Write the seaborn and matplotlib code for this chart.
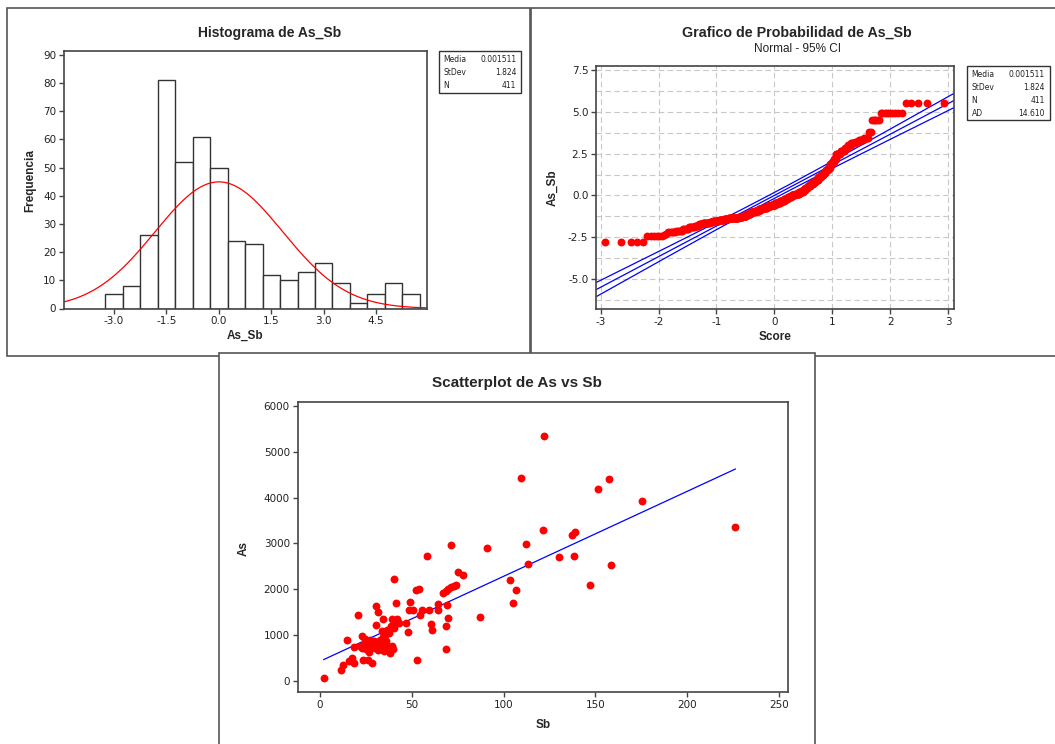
import matplotlib
matplotlib.use("Agg")
import matplotlib.pyplot as plt
import numpy as np
import pandas as pd
import seaborn as sns
from matplotlib.patches import Rectangle
from statistics import NormalDist

as_sb_levels = [-2.8,
                -2.43, -2.35, -2.28,
                -2.2, -2.1, -2.0, -1.9, -1.8,
                -1.72, -1.67, -1.62, -1.57, -1.5, -1.45, -1.4, -1.36, -1.32, -1.28,
                -1.2, -1.1, -1.0, -0.9, -0.8,
                -0.72, -0.65, -0.55, -0.45, -0.33,
                -0.2, -0.1, 0.0, 0.1, 0.2,
                0.3, 0.42, 0.55, 0.68,
                0.8, 0.95, 1.1, 1.2,
                1.35, 1.5, 1.65,
                1.85, 2.0, 2.15,
                2.5, 2.65,
                2.85, 3.0, 3.1, 3.2,
                3.3, 3.4,
                3.8, 4.5, 4.9, 5.5]
as_sb_counts = [5,
                6, 1, 1,
                5, 5, 5, 6, 5,
                5, 5, 5, 5, 10, 10, 9, 11, 11, 10,
                10, 10, 11, 11, 10,
                12, 12, 12, 13, 12,
                10, 10, 10, 10, 10,
                6, 6, 6, 6,
                6, 6, 6, 5,
                4, 4, 4,
                3, 4, 3,
                7, 6,
                4, 4, 4, 4,
                5, 4,
                2, 5, 9, 5]

# summary shown in the legend boxes
media = 0.001511
stdev = 1.824
n_obs = 411
ad_stat = 14.610

# Scatterplot As vs Sb
sb_vals = [122.2, 109.3, 157.2, 151.2, 175.4, 226.3, 121.7, 137.0, 138.8, 71.4,
           91.2, 112.1, 58.5, 130.1, 138.1, 113.1, 158.5, 40.3, 75.2, 77.6,
           103.7, 106.5, 147.2, 105.3, 86.9, 52.7,
           52.3, 53.8, 67.2, 68.6, 69.9, 71.2, 72.7, 74.1, 48.8, 41.5,
           64.5, 69.2, 48.5, 50.8, 55.4, 59.3, 64.5, 54.2, 69.6, 68.4,
           60.4, 61.1, 48.1, 40.8, 43.2, 46.9, 68.4, 39.6,
           1.9, 11.2, 12.7, 14.4, 15.9, 17.6, 18.6, 18.6, 20.6, 22.7,
           23.3, 22.9, 24.4, 25.4, 26.5, 26.1, 27.1, 28.4, 28.6, 29.2,
           29.7, 30.7, 31.4, 30.7, 31.4, 31.8, 32.8, 33.5, 34.5, 33.9,
           35.0, 35.6, 36.0, 36.7, 37.7, 37.9, 38.6, 39.2, 39.2, 40.7,
           41.9, 40.0, 34.5, 38.0, 24.0, 27.5, 30.5, 33.0, 36.5, 25.0,
           22.0, 26.0]
as_vals = [5340, 4439, 4417, 4192, 3921, 3362, 3295, 3178, 3248, 2959,
           2890, 2978, 2715, 2711, 2733, 2558, 2537, 2220, 2380, 2300,
           2194, 1972, 2102, 1698, 1385, 445,
           1982, 2004, 1925, 1965, 2004, 2040, 2063, 2100, 1725, 1705,
           1684, 1654, 1553, 1540, 1553, 1540, 1553, 1428, 1366, 1188,
           1231, 1115, 1070, 1297, 1268, 1250, 695, 695,
           58, 240, 340, 896, 423, 496, 386, 729, 1430, 984,
           445, 714, 911, 824, 620, 459, 882, 386, 787, 860,
           714, 1630, 1494, 1210, 824, 678, 896, 751, 1348, 1079,
           641, 1006, 860, 1115, 1042, 605, 1188, 765, 1348, 1275,
           1348, 1150, 950, 1130, 780, 760, 800, 700, 760, 700,
           760, 850]

# fitted line as drawn in the reference (As = a + b*Sb)
fit_intercept = 424
fit_slope = 18.58

as_sb = np.repeat(as_sb_levels, as_sb_counts)

sns.set_style("ticks")
plt.rcParams['font.family'] = ['DejaVu Sans']
plt.rcParams['axes.unicode_minus'] = False

W, H = 1055, 744
fig = plt.figure(figsize=(W / 100, H / 100), dpi=100)
EDGE = '#444444'
TITLE_FONT = 'Liberation Sans'


def px_axes(l, t, r, b):
    return fig.add_axes([l / W, 1 - b / H, (r - l) / W, (b - t) / H])


def px_text(x, y, s, **kw):
    fig.text(x / W, 1 - y / H, s, **kw)


def px_rect(l, t, r, b, z, lw=1.2, ec='#555555'):
    fig.add_artist(Rectangle((l / W, 1 - b / H), (r - l) / W, (b - t) / H,
                             transform=fig.transFigure, facecolor='white',
                             edgecolor=ec, lw=lw, zorder=z))


def style_axes(ax):
    for sp in ax.spines.values():
        sp.set_visible(True)
        sp.set_color(EDGE)
        sp.set_linewidth(1.2)
    ax.tick_params(which='major', direction='out', length=3.5, width=1,
                   color=EDGE, labelsize=7.5, pad=2, labelcolor='#222222')
    ax.set_xlabel('')
    ax.set_ylabel('')


def stats_box(l, t, r, b, rows, ys):
    px_rect(l, t, r, b, 2, lw=1.0, ec='#333333')
    for (lab, val), y in zip(rows, ys):
        px_text(l + 5, y, lab, fontsize=5.5, va='center', ha='left', color='#222222')
        px_text(r - 5, y, val, fontsize=5.5, va='center', ha='right', color='#222222')


# panel frames
px_rect(7, 8, 530, 356, -3)
px_rect(531, 8, 1062, 356, -3)
px_rect(219, 353, 815, 752, -2)

# ---------------- Histogram ----------------
ax1 = px_axes(64, 51, 426.5, 308.5)
edges = np.arange(-3.25, 5.76, 0.5)
sns.histplot(x=as_sb, bins=edges, color='white', edgecolor='#333333',
             linewidth=1.0, alpha=1, ax=ax1)
x_lo, x_hi = -4.43, 5.94
xs = np.linspace(x_lo, x_hi, 300)
bw = edges[1] - edges[0]
curve = n_obs * bw * np.exp(-0.5 * ((xs - media) / stdev) ** 2) / (stdev * np.sqrt(2 * np.pi))
ax1.plot(xs, curve, color='red', lw=0.9)
ax1.set_xlim(x_lo, x_hi)
ax1.set_ylim(0, 91.4)
hx = np.arange(-3.0, 4.6, 1.5)
ax1.set_xticks(hx)
ax1.set_xticklabels([f"{v:.1f}" for v in hx])
ax1.set_yticks(np.arange(0, 91, 10))
style_axes(ax1)

px_text(270, 33, 'Histograma de As_Sb', family=TITLE_FONT, fontweight='bold',
        fontsize=10, ha='center', va='center')
px_text(245, 336, 'As_Sb', family=TITLE_FONT, fontweight='bold', fontsize=8.5,
        ha='center', va='center')
px_text(30, 180, 'Frequencia', family=TITLE_FONT, fontweight='bold', fontsize=8.5,
        ha='center', va='center', rotation=90)
stats_box(438.5, 51, 521.3, 93.3,
          [('Media', f'{media}'), ('StDev', f'{stdev:.3f}'), ('N', f'{n_obs}')],
          [60, 72.7, 85])

# ---------------- Probability plot ----------------
ax2 = px_axes(596, 66, 954, 309)
ranks = np.arange(1, len(as_sb) + 1)
probs = (ranks - 0.3) / (len(as_sb) + 0.4)
scores = np.array([NormalDist().inv_cdf(p) for p in probs])
z_lo, z_hi = -3.081, 3.104
zz = np.linspace(z_lo, z_hi, 200)
fit = media + stdev * zz
half = 1.96 * stdev * np.sqrt((1 + zz ** 2 / 2) / len(as_sb))
for yy in (fit - half, fit, fit + half):
    ax2.plot(zz, yy, color='blue', lw=0.9, zorder=2)
sns.scatterplot(x=scores, y=np.sort(as_sb), color='red', s=32, linewidth=0,
                ax=ax2, zorder=3)
ax2.set_xlim(z_lo, z_hi)
ax2.set_ylim(-6.77, 7.72)
ax2.set_xticks(np.arange(-3, 4, 1))
yt = np.arange(-5.0, 7.6, 2.5)
ax2.set_yticks(yt)
ax2.set_yticklabels([f"{v:.1f}" for v in yt])
ax2.set_yticks(np.arange(-6.25, 7.6, 1.25), minor=True)
ax2.tick_params(which='minor', length=0)
ax2.grid(True, which='both', axis='y', ls=(0, (5, 3)), color='#c8c8c8', lw=0.8)
ax2.grid(True, which='major', axis='x', ls=(0, (5, 3)), color='#c8c8c8', lw=0.8)
ax2.set_axisbelow(True)
style_axes(ax2)

px_text(797, 33, 'Grafico de Probabilidad de As_Sb', family=TITLE_FONT,
        fontweight='bold', fontsize=10.3, ha='center', va='center')
px_text(797, 49, 'Normal - 95% CI', family=TITLE_FONT, fontsize=8.5,
        ha='center', va='center', color='#222222')
px_text(775, 337, 'Score', family=TITLE_FONT, fontweight='bold', fontsize=8.5,
        ha='center', va='center')
px_text(553, 188, 'As_Sb', family=TITLE_FONT, fontweight='bold', fontsize=8.5,
        ha='center', va='center', rotation=90)
stats_box(966.7, 66.3, 1050, 120,
          [('Media', f'{media}'), ('StDev', f'{stdev:.3f}'), ('N', f'{n_obs}'),
           ('AD', f'{ad_stat:.3f}')],
          [74.7, 88, 100.7, 114])

# ---------------- Scatterplot ----------------
ax3 = px_axes(297.5, 402, 788, 692)
df = pd.DataFrame({'Sb': sb_vals, 'As': as_vals})
sns.regplot(data=df, x='Sb', y='As', fit_reg=False, ax=ax3,
            scatter_kws=dict(color='red', s=32, linewidths=0, alpha=1, zorder=3))
line_x = np.array([df['Sb'].min(), df['Sb'].max()])
sns.lineplot(x=line_x, y=fit_intercept + fit_slope * line_x, color='blue',
             lw=0.9, ax=ax3, zorder=2)
ax3.set_xlim(-12.3, 254.9)
ax3.set_ylim(-248, 6093)
ax3.set_xticks(np.arange(0, 251, 50))
ax3.set_yticks(np.arange(0, 6001, 1000))
style_axes(ax3)

px_text(517, 383, 'Scatterplot de As vs Sb', family=TITLE_FONT, fontweight='bold',
        fontsize=11, ha='center', va='center')
px_text(543, 725, 'Sb', family=TITLE_FONT, fontweight='bold', fontsize=8.5,
        ha='center', va='center')
px_text(244, 548, 'As', family=TITLE_FONT, fontweight='bold', fontsize=8.5,
        ha='center', va='center', rotation=90)

fig.savefig('out.png', dpi=100, facecolor='white')
